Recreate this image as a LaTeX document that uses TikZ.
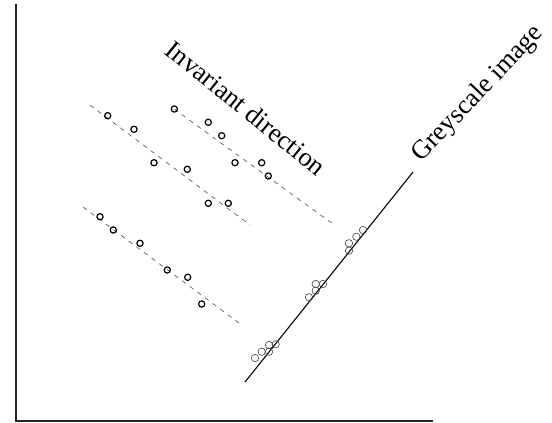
\documentclass[tikz,border=0pt]{standalone}
\usepackage{fontspec}
\setmainfont{Liberation Serif}
\begin{document}
\begin{tikzpicture}[x=1pt,y=-1pt,
  axisline/.style={line width=1.3pt,black!85},
  greyline/.style={line width=1.1pt,black},
  invline/.style={line width=0.6pt,black!70,dash pattern=on 4.5pt off 5pt},
  sample/.style={circle,draw=black,line width=1.2pt,inner sep=0pt,minimum size=6.2pt},
  proj/.style={circle,draw=black!75,line width=0.6pt,inner sep=0pt,minimum size=7.4pt},
  label/.style={font=\fontsize{26.5}{26.5}\selectfont,inner sep=0pt}]
\useasboundingbox (0,0) rectangle (552,423);

% axes
\coordinate (org) at (16,421);
\coordinate (ytop) at (16,4);
\coordinate (xend) at (433,421);
\draw[axisline] (ytop) -- (org) -- (xend);

% greyscale image line
\coordinate (g0) at (245,382);
\coordinate (g1) at (413,172);
\draw[greyline] (g0) -- (g1);

% invariant-direction lines
\coordinate (d1a) at (90,105);  \coordinate (d1b) at (250,225);
\coordinate (d2a) at (174,109); \coordinate (d2b) at (333,224);
\coordinate (d3a) at (83,207);  \coordinate (d3b) at (243,326);
\draw[invline] (d1a) -- (d1b);
\draw[invline] (d2a) -- (d2b);
\draw[invline] (d3a) -- (d3b);

% samples along the first line
\node[sample] (a1) at (107.7,115.7) {};
\node[sample] (a2) at (134,129.3) {};
\node[sample] (a3) at (154,162.7) {};
\node[sample] (a4) at (187.3,169.3) {};
\node[sample] (a5) at (208.3,203.3) {};
\node[sample] (a6) at (228.3,203.3) {};

% samples along the second line
\node[sample] (b1) at (174.3,109) {};
\node[sample] (b2) at (208.3,122.3) {};
\node[sample] (b3) at (221.7,135.7) {};
\node[sample] (b4) at (235,162.7) {};
\node[sample] (b5) at (261.7,162.7) {};
\node[sample] (b6) at (268.3,176) {};

% samples along the third line
\node[sample] (c1) at (100,216.7) {};
\node[sample] (c2) at (113.3,230) {};
\node[sample] (c3) at (140,243.3) {};
\node[sample] (c4) at (167.3,270) {};
\node[sample] (c5) at (187.7,277.3) {};
\node[sample] (c6) at (201.7,304) {};

% projections onto the greyscale line
\node[proj] (p1) at (255,358) {};
\node[proj] (p2) at (261.7,351.7) {};
\node[proj] (p3) at (269,351.7) {};
\node[proj] (p4) at (269,345) {};
\node[proj] (p5) at (275.7,344.3) {};
\node[proj] (q1) at (309,297.3) {};
\node[proj] (q2) at (315.7,290.7) {};
\node[proj] (q3) at (315.7,284) {};
\node[proj] (q4) at (323,284) {};
\node[proj] (r1) at (349,250.7) {};
\node[proj] (r2) at (349,243.3) {};
\node[proj] (r3) at (356.3,236.7) {};
\node[proj] (r4) at (363,230) {};

% labels
\node[label,rotate=-39] (inv) at (246,108) {Invariant direction};
\node[label,rotate=46.5] (grey) at (478,94) {Greyscale image};
\end{tikzpicture}
\end{document}
